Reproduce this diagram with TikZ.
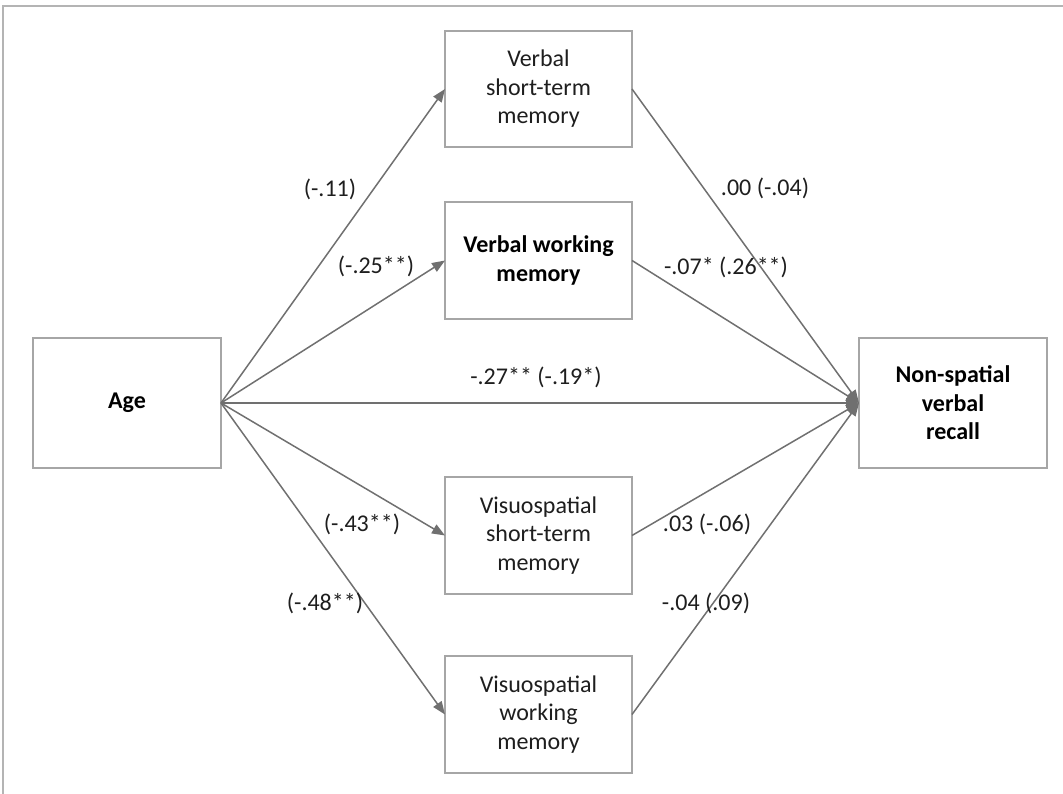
\documentclass[tikz,border=0pt]{standalone}
\usepackage{fontspec}
\setmainfont{Carlito}
\usetikzlibrary{arrows.meta}
\definecolor{boxgray}{HTML}{A6A6A6}
\definecolor{arrgray}{HTML}{707070}
\definecolor{framegray}{HTML}{B4B4B4}
\definecolor{txt}{HTML}{1E1E1E}
\tikzset{
  mbox/.style={draw=boxgray, line width=1.5pt, fill=white, rectangle, minimum width=187pt, minimum height=117pt, align=center, inner sep=0pt, outer sep=0pt, text=txt, font=\fontsize{24}{28.5}\selectfont},
  bbox/.style={mbox, font=\fontsize{24}{28.5}\selectfont\bfseries, text=black},
  conn/.style={draw=arrgray, line width=1.5pt, -{Triangle[length=13pt,width=10pt]}},
  coef/.style={text=txt, font=\fontsize{24}{28.5}\selectfont, inner sep=0pt}
}
\begin{document}
\begin{tikzpicture}[x=1pt,y=-1pt]
\useasboundingbox (0,0) rectangle (1063,794);
% frame
\coordinate (ftl) at (3,6);
\coordinate (ftr) at (1063,6);
\coordinate (fbl) at (3,794);
\draw[framegray, line width=1.3pt] (fbl) -- (ftl) -- (ftr);
% nodes
\node[bbox, minimum width=188pt, minimum height=130pt] (age) at (127,403) {Age};
\node[bbox, minimum width=188pt, minimum height=130pt] (nsvr) at (953,403) {Non-spatial\\verbal\\recall};
\node[mbox, minimum height=116pt] (vstm) at (538.5,89) {Verbal\\short-term\\memory};
\node[bbox] (vwm) at (538.5,260.5) {Verbal working\\memory};
\node[mbox] (vsstm) at (538.5,535.5) {Visuospatial\\short-term\\memory};
\node[mbox] (vswm) at (538.5,714.5) {Visuospatial\\working\\memory};
% connectors
\draw[conn] (age.east) -- (vstm.west);
\draw[conn] (age.east) -- (vwm.west);
\draw[conn] (age.east) -- (vsstm.west);
\draw[conn] (age.east) -- (vswm.west);
\draw[conn] (age.east) -- (nsvr.west);
\draw[conn] (vstm.east) -- (nsvr.west);
\draw[conn] (vwm.east) -- (nsvr.west);
\draw[conn] (vsstm.east) -- (nsvr.west);
\draw[conn] (vswm.east) -- (nsvr.west);
% coefficients
\node[coef] (c1) at (330,189) {(-.11)};
\node[coef] (c2) at (376,266) {(-.25**)};
\node[coef] (c3) at (765,188) {.00 (-.04)};
\node[coef] (c4) at (726,267) {-.07* (.26**)};
\node[coef] (c5) at (536,377) {-.27** (-.19*)};
\node[coef] (c6) at (362,524) {(-.43**)};
\node[coef] (c7) at (707,524) {.03 (-.06)};
\node[coef] (c8) at (325,603) {(-.48**)};
\node[coef] (c9) at (706,603) {-.04 (.09)};
\end{tikzpicture}
\end{document}
